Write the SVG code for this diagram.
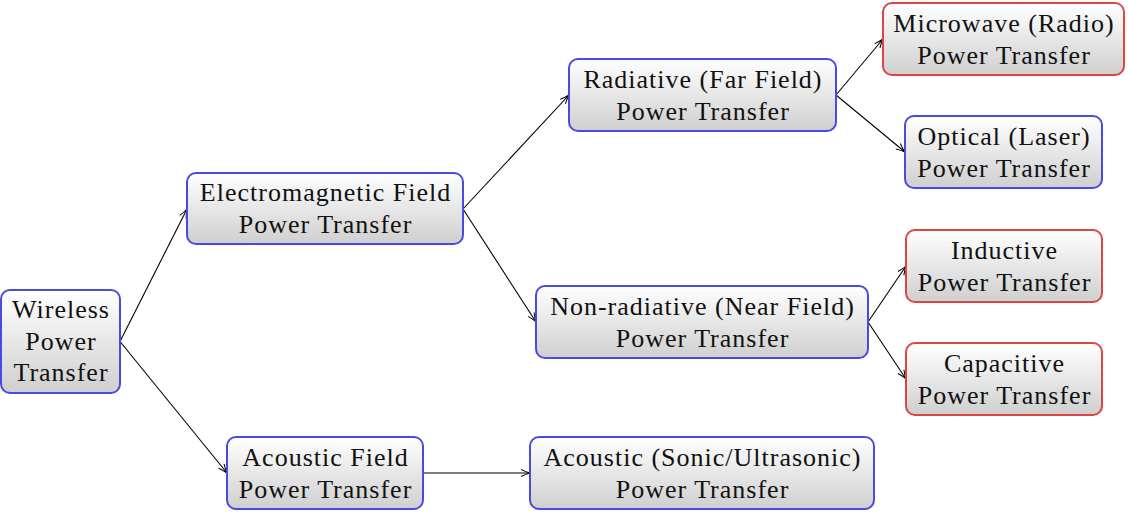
<svg xmlns="http://www.w3.org/2000/svg" width="1128" height="513" viewBox="0 0 1128 513">
<defs>
<linearGradient id="g" x1="0" y1="0" x2="0" y2="1">
<stop offset="0" stop-color="#ffffff"/>
<stop offset="1" stop-color="#cfcfcf"/>
</linearGradient>
<marker id="arr" viewBox="0 0 10 10" refX="10" refY="5" markerWidth="10" markerHeight="10" markerUnits="userSpaceOnUse" orient="auto">
<path d="M1,1.5 Q6,4 10,5 Q6,6 1,8.5" fill="none" stroke="#000" stroke-width="1"/>
</marker>
<style>
.b{fill:url(#g);stroke:#4a4ae0;stroke-width:2}
.r{fill:url(#g);stroke:#dd4444;stroke-width:2}
text{font-family:"Liberation Serif","Times New Roman",serif;font-size:26px;letter-spacing:1px;fill:#111;text-anchor:middle}
.c line{stroke:#000;stroke-width:1.1;marker-end:url(#arr)}
</style>
</defs>
<g class="c" id="connectors">
<line x1="120" y1="341.5" x2="187" y2="209"/>
<line x1="120" y1="341.5" x2="227" y2="473"/>
<line x1="463" y1="209" x2="569" y2="95"/>
<line x1="463" y1="209" x2="536" y2="322"/>
<line x1="423" y1="473" x2="530" y2="473"/>
<line x1="836" y1="95" x2="883" y2="39"/>
<line x1="836" y1="95" x2="905" y2="152"/>
<line x1="868" y1="322" x2="906" y2="266"/>
<line x1="868" y1="322" x2="906" y2="379"/>
</g>
<g id="n-wireless">
<rect class="b" x="1" y="290" width="119" height="103" rx="9"/>
<text x="61" y="318">Wireless</text><text x="61" y="349.5">Power</text><text x="61" y="381">Transfer</text>
</g>
<g id="n-em">
<rect class="b" x="187" y="173" width="276" height="71" rx="9"/>
<text x="325.5" y="201">Electromagnetic Field</text><text x="325.5" y="232.5">Power Transfer</text>
</g>
<g id="n-acoustic-field">
<rect class="b" x="227" y="437" width="196" height="72" rx="9"/>
<text x="325.5" y="466">Acoustic Field</text><text x="325.5" y="497.5">Power Transfer</text>
</g>
<g id="n-radiative">
<rect class="b" x="569" y="59" width="267" height="72" rx="9"/>
<text x="703" y="88">Radiative (Far Field)</text><text x="703" y="119.5">Power Transfer</text>
</g>
<g id="n-nonrad">
<rect class="b" x="536" y="286" width="332" height="72" rx="9"/>
<text x="702.5" y="315">Non-radiative (Near Field)</text><text x="702.5" y="346.5">Power Transfer</text>
</g>
<g id="n-acoustic">
<rect class="b" x="530" y="437" width="344" height="72" rx="9"/>
<text x="702.5" y="466">Acoustic (Sonic/Ultrasonic)</text><text x="702.5" y="497.5">Power Transfer</text>
</g>
<g id="n-microwave">
<rect class="r" x="883" y="3" width="241" height="72" rx="9"/>
<text x="1004" y="32">Microwave (Radio)</text><text x="1004" y="63.5">Power Transfer</text>
</g>
<g id="n-optical">
<rect class="b" x="905" y="116" width="197" height="72" rx="9"/>
<text x="1004" y="145">Optical (Laser)</text><text x="1004" y="176.5">Power Transfer</text>
</g>
<g id="n-inductive">
<rect class="r" x="906" y="230" width="196" height="72" rx="9"/>
<text x="1004.5" y="259">Inductive</text><text x="1004.5" y="290.5">Power Transfer</text>
</g>
<g id="n-capacitive">
<rect class="r" x="906" y="343" width="196" height="72" rx="9"/>
<text x="1004.5" y="372">Capacitive</text><text x="1004.5" y="403.5">Power Transfer</text>
</g>
</svg>
